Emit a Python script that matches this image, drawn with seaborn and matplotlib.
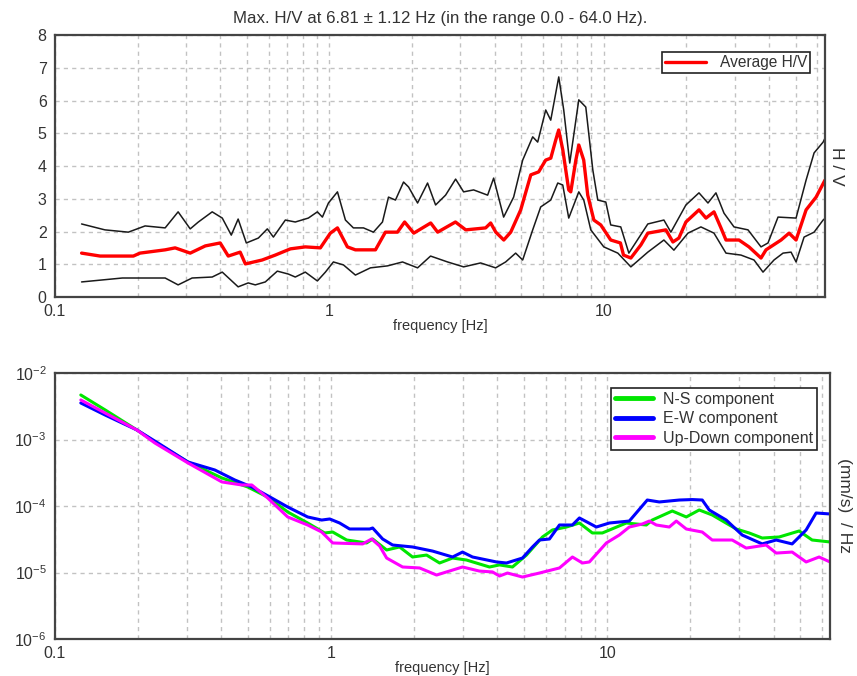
import numpy as np
import pandas as pd
import matplotlib
matplotlib.use("Agg")
import matplotlib.pyplot as plt
import matplotlib.ticker as mticker
import seaborn as sns

# ---------------- data: H/V panel ----------------
hv_avg_f = [0.125, 0.146, 0.193, 0.204, 0.252, 0.274, 0.311, 0.353, 0.400, 0.428, 0.473, 0.494,
            0.569, 0.635, 0.721, 0.817, 0.927, 1.008, 1.070, 1.163, 1.244, 1.472, 1.60, 1.77,
            1.88, 2.03, 2.34, 2.48, 2.88, 3.14, 3.71, 3.87, 4.04, 4.32, 4.58, 4.98, 5.42, 5.79,
            6.14, 6.41, 6.68, 6.85, 7.09, 7.45, 7.58, 7.91, 8.11, 8.45, 8.74, 9.20, 9.75, 10.6,
            11.5, 11.8, 12.55, 13.65, 14.47, 16.84, 17.86, 18.78, 19.92, 22.23, 23.57, 25.21,
            26.73, 27.88, 31.10, 33.82, 37.41, 39.01, 44.26, 47.34, 50.20, 54.61, 59.39, 64.0]
hv_avg = [1.34, 1.25, 1.25, 1.34, 1.44, 1.50, 1.34, 1.56, 1.65, 1.25, 1.37, 1.01,
          1.13, 1.28, 1.47, 1.53, 1.50, 1.95, 2.11, 1.53, 1.44, 1.44, 1.98, 1.98,
          2.29, 1.95, 2.26, 1.98, 2.29, 2.05, 2.11, 2.26, 1.98, 1.74, 1.98, 2.66, 3.73, 3.82,
          4.18, 4.24, 4.79, 5.10, 4.49, 3.27, 3.21, 4.18, 4.64, 4.18, 3.11, 2.35, 2.20, 1.74,
          1.65, 1.28, 1.19, 1.59, 1.95, 2.05, 1.68, 1.80, 2.29, 2.66, 2.41, 2.60,
          2.11, 1.74, 1.74, 1.53, 1.19, 1.44, 1.74, 1.95, 1.74, 2.66, 3.05, 3.57]

hv_hi_f = [0.125, 0.152, 0.185, 0.213, 0.252, 0.281, 0.311, 0.333, 0.374, 0.407, 0.439, 0.465,
           0.498, 0.551, 0.594, 0.625, 0.691, 0.751, 0.838, 0.904, 0.943, 0.992, 1.070, 1.144,
           1.223, 1.331, 1.447, 1.561, 1.642, 1.741, 1.863, 1.943, 2.096, 2.279, 2.438, 2.651,
           2.884, 3.084, 3.354, 3.773, 3.968, 4.315, 4.693, 5.063, 5.507, 5.743, 6.143, 6.407,
           6.853, 7.145, 7.515, 8.107, 8.598, 9.120, 9.508, 10.17, 10.60, 11.53, 12.34, 14.47,
           16.56, 17.56, 19.92, 22.23, 23.97, 25.63, 27.42, 29.82, 33.54, 37.41, 39.67, 43.15,
           50.20, 54.61, 58.40, 63.0, 64.0]
hv_hi = [2.23, 2.05, 1.98, 2.17, 2.11, 2.60, 2.08, 2.29, 2.60, 2.41, 1.89, 2.38,
         1.65, 1.80, 2.08, 1.83, 2.35, 2.29, 2.41, 2.60, 2.44, 2.87, 3.21, 2.35,
         2.11, 2.11, 1.98, 2.29, 3.05, 2.96, 3.51, 3.36, 2.87, 3.48, 2.81, 3.11,
         3.60, 3.21, 3.27, 3.11, 3.63, 2.44, 3.05, 4.18, 4.89, 4.73, 5.71, 5.40,
         6.72, 5.71, 4.09, 6.02, 5.80, 3.88, 2.96, 2.90, 2.20, 2.14, 1.34, 2.23,
         2.35, 1.98, 2.81, 3.18, 2.87, 3.18, 2.56, 2.14, 2.05, 1.53, 1.65, 2.44,
         2.41, 3.57, 4.40, 4.73, 4.85]

hv_lo_f = [0.125, 0.176, 0.252, 0.281, 0.316, 0.374, 0.407, 0.465, 0.506, 0.537, 0.584, 0.646,
           0.709, 0.751, 0.817, 0.904, 0.967, 1.034, 1.125, 1.244, 1.411, 1.628, 1.847, 2.096,
           2.337, 2.696, 3.084, 3.557, 4.035, 4.388, 4.773, 5.063, 5.507, 5.890, 6.407, 6.796,
           7.087, 7.452, 8.107, 8.454, 8.967, 10.0, 11.25, 12.55, 14.47, 16.56, 18.01, 20.26,
           22.59, 25.21, 27.88, 31.62, 35.27, 38.04, 41.72, 45.01, 48.14, 50.20, 53.70, 58.40,
           63.0, 64.0]
hv_lo = [0.46, 0.58, 0.58, 0.37, 0.58, 0.61, 0.76, 0.31, 0.43, 0.37, 0.46, 0.79,
         0.70, 0.61, 0.76, 0.49, 0.76, 1.07, 0.98, 0.67, 0.89, 0.95, 1.07, 0.89,
         1.25, 1.07, 0.92, 1.04, 0.89, 1.07, 1.34, 1.13, 2.05, 2.75, 2.96, 3.48,
         3.42, 2.41, 3.21, 2.96, 2.05, 1.53, 1.34, 0.92, 1.37, 1.74, 1.43, 1.95,
         2.14, 1.95, 1.34, 1.28, 1.13, 0.76, 1.13, 1.34, 1.37, 1.07, 1.83, 1.98,
         2.35, 2.40]

# ---------------- data: spectra panel ----------------
ns_f = [0.124, 0.152, 0.198, 0.230, 0.303, 0.402, 0.499, 0.589, 0.696, 0.822, 0.947, 1.013,
        1.138, 1.344, 1.413, 1.588, 1.769, 1.971, 2.215, 2.469, 2.751, 3.091, 3.743, 4.068,
        4.534, 5.095, 5.822, 6.327, 7.109, 7.922, 8.826, 9.592, 11.71, 13.84, 14.54, 17.18,
        19.31, 21.51, 23.97, 29.28, 32.62, 36.36, 41.90, 49.48, 55.13, 64.0]
ns = [4.67e-3, 2.78e-3, 1.39e-3, 9.16e-4, 4.59e-4, 2.64e-4, 1.93e-4, 1.36e-4, 8.13e-5, 5.55e-5,
      3.93e-5, 4.06e-5, 3.08e-5, 2.78e-5, 3.19e-5, 2.18e-5, 2.42e-5, 1.71e-5, 1.83e-5, 1.39e-5,
      1.65e-5, 1.54e-5, 1.21e-5, 1.30e-5, 1.21e-5, 1.83e-5, 3.42e-5, 4.36e-5, 4.83e-5, 5.55e-5,
      3.93e-5, 3.93e-5, 5.55e-5, 5.18e-5, 6.15e-5, 8.41e-5, 6.84e-5, 8.71e-5, 7.33e-5, 4.51e-5,
      3.93e-5, 3.30e-5, 3.42e-5, 4.21e-5, 3.08e-5, 2.88e-5]

ew_f = [0.124, 0.152, 0.198, 0.236, 0.303, 0.379, 0.448, 0.516, 0.609, 0.696, 0.822, 0.924,
        0.988, 1.073, 1.166, 1.378, 1.413, 1.536, 1.669, 1.971, 2.329, 2.751, 2.990, 3.250,
        3.968, 4.313, 4.928, 5.356, 5.677, 6.171, 6.707, 7.473, 7.922, 9.124, 10.17, 12.01,
        13.95, 15.42, 18.22, 20.30, 22.06, 23.38, 26.94, 30.78, 36.36, 40.86, 46.68, 52.45,
        57.00, 64.0]
ew = [3.54e-3, 2.33e-3, 1.39e-3, 8.85e-4, 4.59e-4, 3.48e-4, 2.46e-4, 1.93e-4, 1.32e-4, 9.66e-5,
      6.84e-5, 6.15e-5, 6.38e-5, 5.55e-5, 4.51e-5, 4.51e-5, 4.67e-5, 3.19e-5, 2.59e-5, 2.42e-5,
      2.10e-5, 1.71e-5, 2.03e-5, 1.71e-5, 1.44e-5, 1.39e-5, 1.65e-5, 2.42e-5, 3.08e-5, 3.19e-5,
      5.18e-5, 5.18e-5, 6.61e-5, 4.83e-5, 5.55e-5, 5.94e-5, 1.23e-4, 1.15e-4, 1.23e-4, 1.25e-4,
      1.23e-4, 8.71e-5, 6.15e-5, 3.66e-5, 2.69e-5, 3.08e-5, 2.69e-5, 4.36e-5, 7.85e-5, 7.59e-5]

ud_f = [0.124, 0.152, 0.198, 0.230, 0.303, 0.402, 0.475, 0.516, 0.589, 0.696, 0.822, 0.924,
        1.013, 1.300, 1.401, 1.498, 1.588, 1.814, 2.090, 2.408, 2.617, 2.990, 3.444, 3.838,
        4.068, 4.349, 4.928, 5.677, 6.707, 7.473, 8.122, 8.607, 9.917, 11.05, 12.01, 13.38,
        14.19, 15.04, 16.76, 17.77, 19.31, 22.06, 23.97, 28.32, 31.82, 37.58, 40.86, 46.68,
        52.45, 58.44, 64.0]
ud = [3.93e-3, 2.50e-3, 1.39e-3, 8.85e-4, 4.44e-4, 2.30e-4, 2.07e-4, 2.07e-4, 1.32e-4, 6.84e-5,
      5.18e-5, 4.06e-5, 2.78e-5, 2.69e-5, 3.19e-5, 2.50e-5, 1.65e-5, 1.21e-5, 1.17e-5, 9.16e-6,
      1.02e-5, 1.21e-5, 1.05e-5, 1.02e-5, 8.85e-6, 9.82e-6, 8.55e-6, 9.82e-6, 1.17e-5, 1.71e-5,
      1.39e-5, 1.44e-5, 2.78e-5, 3.66e-5, 4.83e-5, 5.36e-5, 5.94e-5, 5.18e-5, 4.83e-5, 5.94e-5,
      4.51e-5, 4.06e-5, 3.08e-5, 3.08e-5, 2.33e-5, 2.59e-5, 1.96e-5, 2.03e-5, 1.44e-5, 1.71e-5,
      1.44e-5]

title_text = "Max. H/V at 6.81 \u00b1 1.12 Hz (in the range 0.0 - 64.0 Hz)."
x_ticks = [0.1, 1, 10]
x_ticklabels = ["0.1", "1", "10"]
hv_yticks = [0, 1, 2, 3, 4, 5, 6, 7, 8]
psd_yticks = [1e-6, 1e-5, 1e-4, 1e-3, 1e-2]
psd_yticklabels = [r"$10^{-6}$", r"$10^{-5}$", r"$10^{-4}$", r"$10^{-3}$", r"$10^{-2}$"]

# ---------------- style ----------------
sns.set_theme(style="white")
plt.rcParams["font.family"] = ["Liberation Sans", "DejaVu Sans"]
plt.rcParams["mathtext.fontset"] = "custom"
plt.rcParams["mathtext.rm"] = "Liberation Sans"
plt.rcParams["mathtext.it"] = "Liberation Sans"
plt.rcParams["mathtext.bf"] = "Liberation Sans"

TXT = "#333333"
GRID = "#c2c2c2"
SPINE = "#444444"

fig = plt.figure(figsize=(8.57, 6.76), dpi=100)
ax1 = fig.add_axes([55 / 857, 1 - 297 / 676, (825 - 55) / 857, (297 - 35) / 676])
ax2 = fig.add_axes([55 / 857, 1 - 639 / 676, (830 - 55) / 857, (639 - 373) / 676])

df_hi = pd.DataFrame({"f": hv_hi_f, "v": hv_hi})
df_lo = pd.DataFrame({"f": hv_lo_f, "v": hv_lo})
df_avg = pd.DataFrame({"f": hv_avg_f, "v": hv_avg})

sns.lineplot(data=df_hi, x="f", y="v", ax=ax1, color="#1a1a1a", linewidth=1.1, legend=False)
sns.lineplot(data=df_lo, x="f", y="v", ax=ax1, color="#1a1a1a", linewidth=1.1, legend=False)
sns.lineplot(data=df_avg, x="f", y="v", ax=ax1, color="#ff0000", linewidth=2.4, label="Average H/V")

for d, c, lab in [(pd.DataFrame({"f": ns_f, "v": ns}), "#00e600", "N-S component"),
                  (pd.DataFrame({"f": ew_f, "v": ew}), "#0000ff", "E-W component"),
                  (pd.DataFrame({"f": ud_f, "v": ud}), "#ff00ff", "Up-Down component")]:
    sns.lineplot(data=d, x="f", y="v", ax=ax2, color=c, linewidth=2.2, label=lab)

for ax in (ax1, ax2):
    ax.set_xscale("log")
    ax.set_xlim(0.1, 64)
    ax.xaxis.set_major_locator(mticker.FixedLocator(x_ticks))
    ax.xaxis.set_major_formatter(mticker.FixedFormatter(x_ticklabels))
    ax.xaxis.set_minor_locator(mticker.LogLocator(base=10, subs=np.arange(2, 10)))
    ax.xaxis.set_minor_formatter(mticker.NullFormatter())
    ax.grid(True, which="major", axis="both", color=GRID, linestyle=(0, (3, 3)), linewidth=1.0)
    ax.grid(True, which="minor", axis="x", color=GRID, linestyle=(0, (3, 3)), linewidth=1.0)
    ax.tick_params(axis="x", which="both", length=0, labelsize=11.5, colors=TXT, pad=5)
    ax.tick_params(axis="y", which="both", length=0, labelsize=11.5, colors=TXT, pad=6)
    for s in ax.spines.values():
        s.set_color(SPINE)
        s.set_linewidth(1.6)
    ax.set_xlabel("frequency [Hz]", fontsize=10.5, color=TXT, labelpad=0)
    ax.set_axisbelow(True)

ax1.set_ylim(0, 8)
ax1.set_yticks(hv_yticks)
ax1.set_yticklabels([str(t) for t in hv_yticks])
ax1.set_ylabel("H / V", rotation=270, fontsize=12.5, color=TXT, labelpad=14)
ax1.yaxis.set_label_position("right")
ax1.set_title(title_text, fontsize=12.2, color=TXT, pad=9)

ax2.set_yscale("log")
ax2.set_ylim(1e-6, 1e-2)
ax2.yaxis.set_major_locator(mticker.FixedLocator(psd_yticks))
ax2.yaxis.set_major_formatter(mticker.FixedFormatter(psd_yticklabels))
ax2.yaxis.set_minor_locator(mticker.NullLocator())
ax2.set_ylabel("(mm/s)  / Hz", rotation=270, fontsize=12.5, color=TXT, labelpad=16)
ax2.yaxis.set_label_position("right")

leg1 = ax1.legend(loc="upper right", bbox_to_anchor=(1 - 15 / 770, 1 - 17 / 262),
                  borderaxespad=0, frameon=True, fancybox=False, framealpha=1,
                  edgecolor="#222222", fontsize=11.2, handlelength=2.6, handletextpad=0.9,
                  borderpad=0.2)
leg1.get_frame().set_linewidth(1.2)
for t in leg1.get_texts():
    t.set_color(TXT)

leg2 = ax2.legend(loc="upper right", bbox_to_anchor=(1 - 13 / 775, 1 - 15 / 266),
                  borderaxespad=0, frameon=True, fancybox=False, framealpha=1,
                  edgecolor="#222222", fontsize=11.5, handlelength=2.4, handletextpad=0.6,
                  borderpad=0.25, labelspacing=0.28)
leg2.get_frame().set_linewidth(1.2)
for t in leg2.get_texts():
    t.set_color(TXT)
for l in leg2.get_lines():
    l.set_linewidth(3.5)

fig.savefig("out.png", dpi=100)
